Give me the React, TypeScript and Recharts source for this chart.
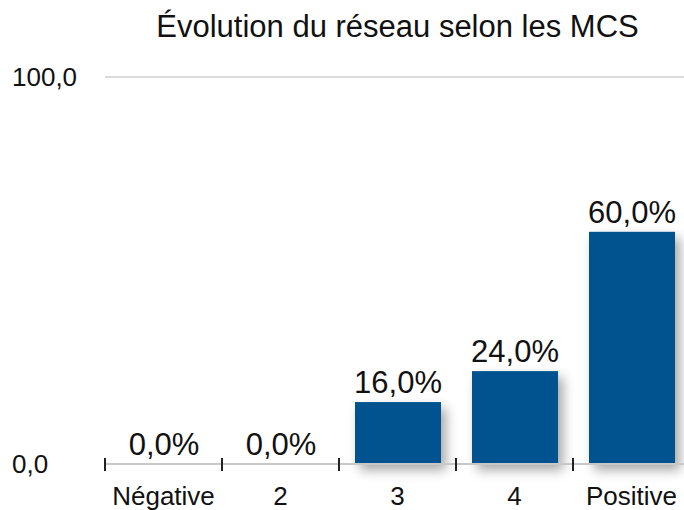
import React from "react";
import { BarChart, Bar, XAxis, YAxis, ReferenceLine, LabelList } from "recharts";

// ── Data ──────────────────────────────────────────────────────────────────
const CATEGORIES = ["Négative", "2", "3", "4", "Positive"];
const VALUES = [0, 0, 16, 24, 60];
const Y_TICKS = [0, 100];

const data = CATEGORIES.map((c, i) => ({ cat: c, v: VALUES[i] }));

// ── Layout ────────────────────────────────────────────────────────────────
const W = 684;
const H = 510;
const M = { top: 77, right: -6, left: 10, bottom: 0 };
const Y_W = 95;
const PLOT_W = W - M.left - Y_W - M.right;
const BAND = PLOT_W / CATEGORIES.length;
const FONT = "'Helvetica Neue', 'Liberation Sans', Arial, sans-serif";
const BLUE = "#03528f";

const fmt = (v: number) => v.toFixed(1).replace(".", ",");

const XTick = (props: any) => {
  const { x, y, payload } = props;
  const left = x - BAND / 2;
  return (
    <g>
      <line x1={left} x2={left} y1={y - 14} y2={y - 1} stroke="#222" strokeWidth={2} />
      <text x={x} y={y + 33} textAnchor="middle" fontSize={26} fill="#111" fontFamily={FONT}>
        {payload.value}
      </text>
    </g>
  );
};

const YTick = (props: any) => {
  const { y, payload } = props;
  return (
    <text x={12} y={y + 9} textAnchor="start" fontSize={26} fill="#111" fontFamily={FONT}>
      {fmt(payload.value)}
    </text>
  );
};

const ShadowBar = (props: any) => {
  const { x, y, width, height } = props;
  if (!height || height <= 0) return <g />;
  return <rect x={x} y={y} width={width} height={height} fill={BLUE} filter="url(#barShadow)" />;
};

export default function App() {
  return (
    <div style={{ position: "absolute", left: 0, top: 0, width: W, height: H, background: "#fff", overflow: "hidden" }}>
      <svg width={0} height={0} style={{ position: "absolute" }}>
        <defs>
          <filter id="barShadow" x="-30%" y="-30%" width="170%" height="170%">
            <feDropShadow dx={5} dy={6} stdDeviation={6} floodColor="#000" floodOpacity={0.35} />
          </filter>
        </defs>
      </svg>
      <div
        style={{
          position: "absolute", left: M.left + Y_W, width: PLOT_W, top: 9, textAlign: "center",
          fontSize: 31, fontFamily: FONT, color: "#111", whiteSpace: "nowrap",
        }}
      >
        Évolution du réseau selon les MCS
      </div>
      <BarChart width={W} height={H} data={data} margin={M}>
        <XAxis
          dataKey="cat"
          tick={<XTick />}
          tickLine={false}
          axisLine={{ stroke: "#c8c8c8", strokeWidth: 2 }}
          interval={0}
          height={46}
        />
        <YAxis
          domain={[0, 100]}
          ticks={Y_TICKS}
          width={Y_W}
          tick={<YTick />}
          tickLine={false}
          axisLine={false}
        />
        <ReferenceLine y={100} stroke="#cfcfcf" strokeWidth={1.5} />
        <Bar dataKey="v" barSize={86} fill={BLUE} shape={<ShadowBar />} isAnimationActive={false}>
          <LabelList
            dataKey="v"
            position="top"
            offset={9}
            formatter={(v: any) => `${fmt(Number(v))}%`}
            style={{ fontSize: 31, fill: "#111", fontFamily: FONT }}
          />
        </Bar>
      </BarChart>
    </div>
  );
}
